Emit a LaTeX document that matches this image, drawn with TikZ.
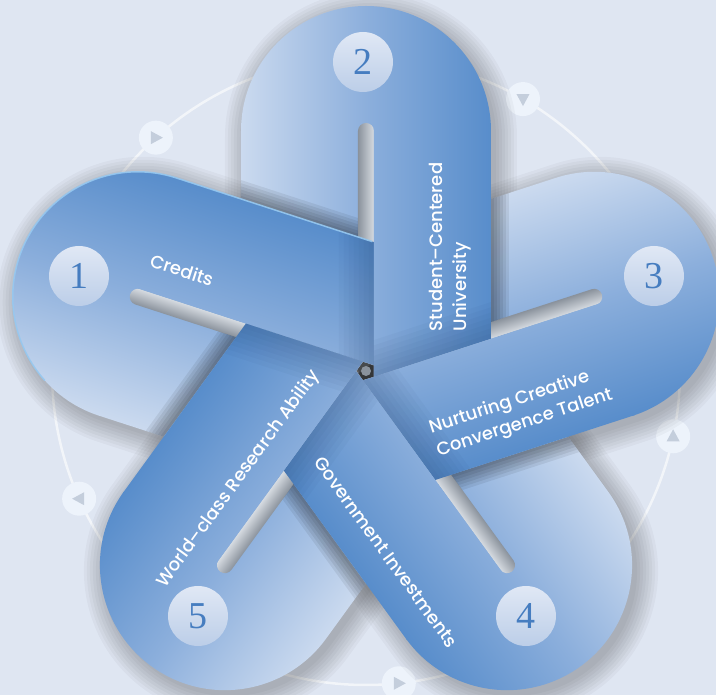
\documentclass[tikz,border=0pt]{standalone}
\usepackage{fontspec}
\setmainfont{Liberation Serif}
\newfontfamily\lblfont{Poppins Medium}
\usetikzlibrary{calc}

\definecolor{bgblue}{RGB}{223,230,242}
\definecolor{looplight}{RGB}{203,218,239}
\definecolor{loopmid}{RGB}{140,175,220}
\definecolor{loopdark}{RGB}{88,141,203}
\definecolor{slotdark}{RGB}{138,146,156}
\definecolor{slotlight}{RGB}{214,219,225}
\definecolor{folddark}{RGB}{30,60,105}
\definecolor{ringfill}{RGB}{237,243,251}
\definecolor{tricol}{RGB}{196,206,220}
\definecolor{disktop}{RGB}{224,232,245}
\definecolor{diskbot}{RGB}{188,206,232}
\definecolor{numblue}{RGB}{70,125,192}
\definecolor{rimblue}{RGB}{150,200,240}

\newcommand{\capd}{240}
\newcommand{\capr}{125}
\newcommand{\slotw}{8}

\tikzset{
  loopshade/.style={left color=looplight, right color=loopdark, middle color=loopmid},
  slotshade/.style={left color=slotdark, right color=slotlight},
  softshadow/.style={fill=black, opacity=0.03},
  edgeshadow/.style={fill=black, opacity=0.07},
  ringdot/.style={circle, fill=ringfill, minimum size=34pt, inner sep=0pt},
  numdisk/.style={circle, minimum size=60pt, inner sep=0pt, top color=disktop,
    bottom color=diskbot, text=numblue, font=\fontsize{38}{38}\selectfont},
  lbl/.style={text=white, inner sep=0pt, font=\lblfont\fontsize{18}{24}\selectfont},
}

\begin{document}
\begin{tikzpicture}[x=1pt, y=1pt]
  \useasboundingbox (-366,-324) rectangle (350,371);
  \fill[bgblue] (-366,-324) rectangle (350,371);

  \draw[white, opacity=0.6, line width=2.5pt] (0,0) circle (314);
  \foreach \i/\a/\t in {1/132/0, 2/60/-90, 3/-12/90, 4/-84/0, 5/204/180} {
    \node[ringdot] (dot\i) at (\a:314) {};
    \fill[tricol, shift={(dot\i.center)}, rotate=\t] (7,0) -- (-5,6.5) -- (-5,-6.5) -- cycle;
  }

  \foreach \r in {72,0,-72,-144,-216}
    \foreach \e in {0,3,...,21}
      \fill[softshadow, shift={(5,-6)}, rotate=\r]
        (-\capr-\e,-10) -- (-\capr-\e,\capd)
        arc[start angle=180, end angle=0, radius=\capr+\e] -- (\capr+\e,-10) -- cycle;

  \fill[slotdark] (0,0) circle (5);

  \foreach \r in {72,0,-72,-144,-216} {
    \begin{scope}[transform canvas={rotate=\r}]
      \clip[rotate=72] (\slotw,-500) rectangle (500,500);
      \shade[loopshade] (-\capr,-10) -- (-\capr,\capd)
        arc[start angle=180, end angle=0, radius=\capr] -- (\slotw,\capd) -- (\slotw,-10) -- cycle;
      \shade[slotshade] (-\slotw,-10) -- (-\slotw,\capd)
        arc[start angle=180, end angle=0, radius=\slotw] -- (\slotw,-10) -- cycle;
    \end{scope}
  }

  \foreach \r in {72,0,-72,-144,-216} {
    \begin{scope}
      \clip[rotate=\r-72] (-\capr,-10) rectangle (-\slotw,\capd);
      \foreach \s in {3,6,...,18}
        \fill[edgeshadow, rotate=\r] (\capr,-10) rectangle (\capr+\s,\capd);
    \end{scope}
  }

  \foreach \r in {72,0,-72,-144,-216} {
    \begin{scope}[transform canvas={rotate=\r}]
      \clip[rotate=-72] (-500,-500) rectangle (\slotw,500);
      \clip (\slotw,-10) rectangle (\capr,\capd+2);
      \shade[loopshade] (-\capr,-10) -- (-\capr,\capd)
        arc[start angle=180, end angle=0, radius=\capr] -- (\capr,-10) -- cycle;
      \foreach \s in {5,10,...,35}
        \fill[folddark, opacity=0.04, rotate=-72] (\slotw-\s,-500) rectangle (\slotw,500);
    \end{scope}
  }

  \draw[rimblue, line width=1.5pt, opacity=0.9, rotate=72]
    (\capr,34) -- (\capr,\capd) arc[start angle=0, end angle=150, radius=\capr];

  \foreach \n/\x/\y in {1/-287/95, 2/-3/309, 3/288/95, 4/160/-245, 5/-168/-245}
    \node[numdisk] (num\n) at (\x,\y) {\n};

  \node[lbl, rotate=-18] (credits) at (-184,101) {Credits};
  \node[lbl, rotate=90, align=left] (student) at (84,124) {Student–Centered\\University};
  \node[lbl, rotate=18, align=left] (talent) at (155,-41) {Nurturing Creative\\Convergence Talent};
  \node[lbl, rotate=-54] (invest) at (20,-181) {Government Investments};
  \node[lbl, rotate=54] (research) at (-127,-108) {World–class Research Ability};
\end{tikzpicture}
\end{document}
